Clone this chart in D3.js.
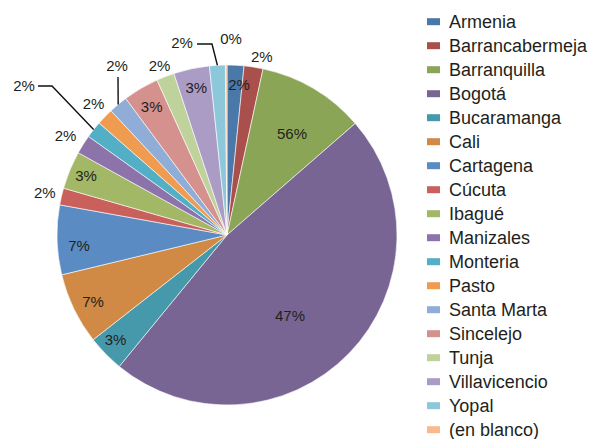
<!DOCTYPE html>
<html><head><meta charset="utf-8">
<script src="https://cdn.jsdelivr.net/npm/d3@7"></script>
<style>
html,body{margin:0;padding:0;background:#fff;}
svg{display:block;font-family:"Liberation Sans",Arial,Helvetica,sans-serif;}
</style></head>
<body><svg id="c" width="593" height="439"></svg>
<script>
// ---- data ----
const categories = ["Armenia","Barrancabermeja","Barranquilla","Bogotá","Bucaramanga","Cali","Cartagena","Cúcuta","Ibagué","Manizales","Monteria","Pasto","Santa Marta","Sincelejo","Tunja","Villavicencio","Yopal","(en blanco)"];
const sliceValues = [1.6,1.8,10.2,47.3,3.5,6.8,6.6,1.6,3.6,1.8,1.6,1.6,1.8,3.4,1.7,3.4,1.5,0.15];
const sliceLabels = ["2%","2%","56%","47%","3%","7%","7%","2%","3%","2%","2%","2%","2%","3%","2%","3%","2%","0%"];
const colors = ["#4a78a9","#a94f4c","#8ba557","#786594","#4699ab","#d08a45","#5a8bc3","#c9605c","#a2b866","#8c74ab","#52afc6","#f09c50","#8fadd6","#d5918e","#bfd29b","#ab9cc5","#8dc8da","#f9b98c"];

// ---- layout ----
const cx = 227, cy = 235, R = 170;
// label placement: radius factor (of R) and angle shift (deg) from slice mid angle
const labelRadius = [0.885,1.07,0.706,0.604,0.9,0.88,0.873,1.1,0.9,1.115,null,1.1,null,0.875,1.07,0.885,null,null];
const labelShift  = [1.7,2,2.2,8,1.1,-0.6,-2.5,0,0.4,-0.6,0,0.4,0,0,-0.5,0.3,0,0];
const leaderLayout = {
  10: {text:[-203,-149], pts:[[-189,-149],[-175,-149]]},
  12: {text:[-110,-169], pts:[[-109,-158]]},
  16: {text:[-45,-192],  pts:[[-30,-191],[-15,-191]]},
  17: {text:[4,-196], pts:null}
};

const svg = d3.select("#c");
const data = categories.map((c,i)=>({cat:c, value:sliceValues[i], label:sliceLabels[i], i}));
const pie = d3.pie().value(d=>d.value).sort(null);
const arcs = pie(data);
const arc = d3.arc().innerRadius(0).outerRadius(R);
const color = d3.scaleOrdinal().domain(categories).range(colors);

const g = svg.append("g").attr("transform",`translate(${cx},${cy})`);
g.selectAll("path.slice").data(arcs).join("path")
  .attr("class","slice")
  .attr("d",arc)
  .attr("fill",d=>color(d.data.cat))
  .attr("stroke","#fff").attr("stroke-width",0.6);

function polar(a, r){ return [r*Math.sin(a), -r*Math.cos(a)]; }

arcs.forEach((d,i)=>{
  const mid = (d.startAngle+d.endAngle)/2;
  let pos;
  if (labelRadius[i] != null) {
    pos = polar(mid + labelShift[i]*Math.PI/180, labelRadius[i]*R);
  } else {
    const L = leaderLayout[i];
    pos = L.text;
    if (L.pts) {
      const pts = L.pts.concat([polar(mid, R)]);
      g.append("path").attr("d", d3.line()(pts))
        .attr("fill","none").attr("stroke","#111").attr("stroke-width",1.4);
    }
  }
  g.append("text").attr("x",pos[0]).attr("y",pos[1]).attr("dy","0.35em")
    .attr("text-anchor","middle").attr("font-size",15).attr("fill","#231f20")
    .text(d.data.label);
});

// legend
const legend = svg.append("g").attr("transform","translate(427,21.7)");
const rows = legend.selectAll("g").data(categories).join("g")
  .attr("transform",(d,i)=>`translate(0,${i*24})`);
rows.append("rect").attr("x",0).attr("y",-3.5).attr("width",13).attr("height",7).attr("fill",d=>color(d));
rows.append("text").attr("x",22).attr("dy","0.35em").attr("font-size",18).attr("fill","#231f20").text(d=>d);
</script>
</body></html>
